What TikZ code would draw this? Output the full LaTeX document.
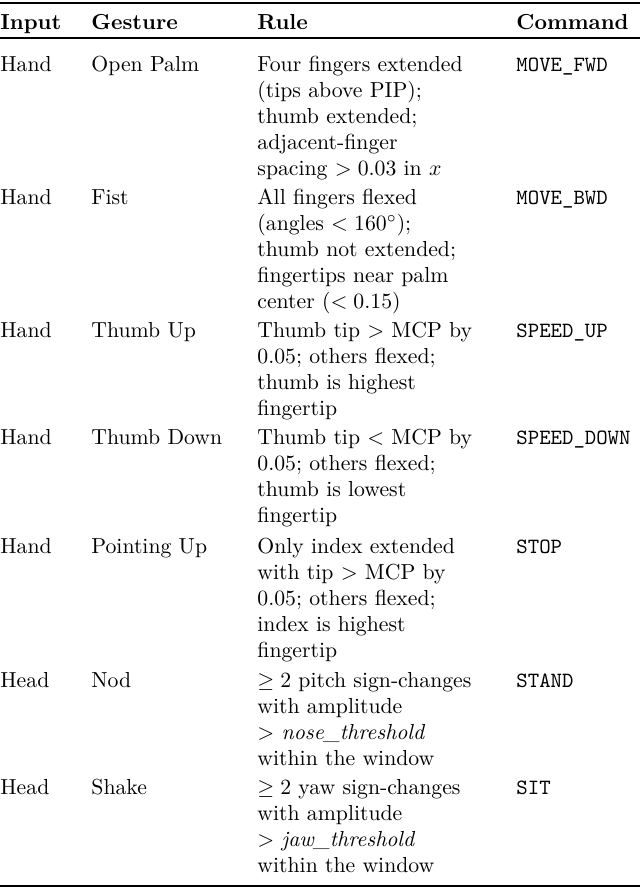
\documentclass[tikz,border=0pt]{standalone}
\newcommand{\lines}[1]{\begin{tabular}[t]{@{}l@{}}#1\end{tabular}}
\begin{document}
\begin{tikzpicture}[x=0.46pt,y=-0.46pt,
  cell/.style={anchor=base west,inner sep=0pt},
  hd/.style={cell,font=\bfseries}]
\useasboundingbox (0,0) rectangle (640,890);
\draw[line width=0.9pt] (0,3) coordinate (t1) -- (640,3) coordinate (t2);
\draw[line width=0.5pt] (0,38) coordinate (m1) -- (640,38) coordinate (m2);
\draw[line width=0.9pt] (0,886) coordinate (b1) -- (640,886) coordinate (b2);
\node[hd] (h1) at (0,29) {Input};
\node[hd] (h2) at (91,29) {Gesture};
\node[hd] (h3) at (257,29) {Rule};
\node[hd] (h4) at (516,29) {Command};
% row 1
\node[cell] (a1) at (0,71) {Hand};
\node[cell] (g1) at (91,71) {Open Palm};
\node[cell] (r1) at (257,71) {\lines{Four fingers extended\\(tips above PIP);\\thumb extended;\\adjacent-finger\\spacing $>0.03$ in $x$}};
\node[cell] (c1) at (516,71) {\texttt{MOVE\_FWD}};
% row 2
\node[cell] (a2) at (0,204) {Hand};
\node[cell] (g2) at (91,204) {Fist};
\node[cell] (r2) at (257,204) {\lines{All fingers flexed\\(angles $<160^\circ$);\\thumb not extended;\\fingertips near palm\\center ($<0.15$)}};
\node[cell] (c2) at (516,204) {\texttt{MOVE\_BWD}};
% row 3
\node[cell] (a3) at (0,337) {Hand};
\node[cell] (g3) at (91,337) {Thumb Up};
\node[cell] (r3) at (257,337) {\lines{Thumb tip $>$ MCP by\\0.05; others flexed;\\thumb is highest\\fingertip}};
\node[cell] (c3) at (516,337) {\texttt{SPEED\_UP}};
% row 4
\node[cell] (a4) at (0,444) {Hand};
\node[cell] (g4) at (91,444) {Thumb Down};
\node[cell] (r4) at (257,444) {\lines{Thumb tip $<$ MCP by\\0.05; others flexed;\\thumb is lowest\\fingertip}};
\node[cell] (c4) at (516,444) {\texttt{SPEED\_DOWN}};
% row 5
\node[cell] (a5) at (0,553) {Hand};
\node[cell] (g5) at (91,553) {Pointing Up};
\node[cell] (r5) at (257,553) {\lines{Only index extended\\with tip $>$ MCP by\\0.05; others flexed;\\index is highest\\fingertip}};
\node[cell] (c5) at (516,553) {\texttt{STOP}};
% row 6
\node[cell] (a6) at (0,687) {Head};
\node[cell] (g6) at (91,687) {Nod};
\node[cell] (r6) at (257,687) {\lines{$\geq 2$ pitch sign-changes\\with amplitude\\$>$ \textit{nose\_threshold}\\within the window}};
\node[cell] (c6) at (516,687) {\texttt{STAND}};
% row 7
\node[cell] (a7) at (0,794) {Head};
\node[cell] (g7) at (91,794) {Shake};
\node[cell] (r7) at (257,794) {\lines{$\geq 2$ yaw sign-changes\\with amplitude\\$>$ \textit{jaw\_threshold}\\within the window}};
\node[cell] (c7) at (516,794) {\texttt{SIT}};
\end{tikzpicture}
\end{document}
